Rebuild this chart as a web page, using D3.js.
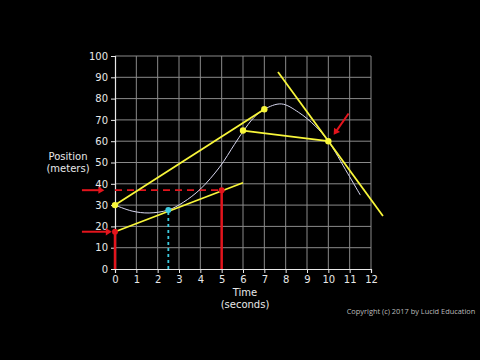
<!DOCTYPE html>
<html><head><meta charset="utf-8">
<script src="https://cdn.jsdelivr.net/npm/d3@7"></script>
<style>html,body{margin:0;padding:0;background:#000;}svg{display:block;}</style>
</head><body>
<svg id="c" width="480" height="360"></svg>
<script>
// Data
const xTicks = [0,1,2,3,4,5,6,7,8,9,10,11,12];
const yTicks = [0,10,20,30,40,50,60,70,80,90,100];
const curveT = [0, 0.8, 1.6, 2.5, 3.2, 4, 4.9, 5.6, 6, 6.5, 7, 7.8, 8.6, 9.4, 10, 10.9, 11.5];
const curveX = [30, 27.2, 26.3, 27.7, 31.3, 37.5, 47.8, 58.5, 64.5, 71, 75, 77.5, 73.6, 67, 60, 45, 34.7];
const secant1 = [[0,30],[7,75]];
const secant2 = [[6,65],[10,60]];
const tangent25 = [[0,17.5],[6,40.5]];
const tangent10 = [[7.64,92.5],[12.56,24.9]];
const yellowDots = [[0,30],[7,75],[6,65],[10,60]];
const redDots = [[0,17.5],[5,37]];
const cyanDot = [2.5,27.7];
const redVerticals = [[0,17.5],[5,37]];
const dashedY = 37;
const arrowsLeft = [[-1.55,37,-0.5],[-1.55,17.5,-0.15]];
const arrowDiag = [[10.95,73],[10.25,63]];

const svg = d3.select("#c");
const x = d3.scaleLinear().domain([0,12]).range([115,371]);
const y = d3.scaleLinear().domain([0,100]).range([269,56]);

const yellow = "#f8f63a", red = "#e3141c", cyan = "#3ccbe0";

// grid
svg.append("g").selectAll("line.v").data(xTicks.slice(1)).join("line")
  .attr("x1",d=>x(d)).attr("x2",d=>x(d)).attr("y1",y(0)).attr("y2",y(100))
  .attr("stroke","#8a8a8a").attr("stroke-width",1);
svg.append("g").selectAll("line.h").data(yTicks.slice(1)).join("line")
  .attr("x1",x(0)).attr("x2",x(12)).attr("y1",d=>y(d)).attr("y2",d=>y(d))
  .attr("stroke","#8a8a8a").attr("stroke-width",1);

// axes
const xa = svg.append("g").attr("transform",`translate(0,${y(0)})`)
  .call(d3.axisBottom(x).tickValues(xTicks).tickSize(4).tickPadding(3).tickFormat(d3.format("d")));
const ya = svg.append("g").attr("transform",`translate(${x(0)},0)`)
  .call(d3.axisLeft(y).tickValues(yTicks).tickSize(4).tickPadding(3).tickFormat(d3.format("d")));
[xa,ya].forEach(a=>{
  a.select(".domain").attr("stroke","#e8e8e8").attr("stroke-width",1.2);
  a.selectAll(".tick line").attr("stroke","#e8e8e8");
  a.selectAll(".tick text").attr("fill","#e8e8e8").attr("font-family","DejaVu Sans").attr("font-size",10);
});

const line = d3.line().x(d=>x(d[0])).y(d=>y(d[1]));

// red verticals
svg.append("g").selectAll("line").data(redVerticals).join("line")
  .attr("x1",d=>x(d[0])).attr("x2",d=>x(d[0])).attr("y1",y(0)).attr("y2",d=>y(d[1]))
  .attr("stroke",red).attr("stroke-width",2.5);
// dashed red horizontal
svg.append("line").attr("x1",x(0)).attr("x2",x(5)).attr("y1",y(dashedY)).attr("y2",y(dashedY))
  .attr("stroke",red).attr("stroke-width",1.8).attr("stroke-dasharray","7,5");

// cyan dotted vertical
svg.append("line").attr("x1",x(cyanDot[0])).attr("x2",x(cyanDot[0])).attr("y1",y(0)).attr("y2",y(cyanDot[1]))
  .attr("stroke",cyan).attr("stroke-width",1.8).attr("stroke-dasharray","3,3");

// curve
svg.append("path").datum(curveT.map((t,i)=>[t,curveX[i]]))
  .attr("d",d3.line().x(d=>x(d[0])).y(d=>y(d[1])).curve(d3.curveCatmullRom.alpha(0.5)))
  .attr("fill","none").attr("stroke","#d8d8f0").attr("stroke-width",1);

// yellow lines
[secant1,secant2,tangent25,tangent10].forEach(s=>{
  svg.append("path").datum(s).attr("d",line).attr("stroke",yellow).attr("stroke-width",1.8).attr("fill","none");
});

// dots
svg.append("g").selectAll("circle").data(yellowDots).join("circle")
  .attr("cx",d=>x(d[0])).attr("cy",d=>y(d[1])).attr("r",3.2).attr("fill",yellow);
svg.append("g").selectAll("circle").data(redDots).join("circle")
  .attr("cx",d=>x(d[0])).attr("cy",d=>y(d[1])).attr("r",3).attr("fill",red);
svg.append("circle").attr("cx",x(cyanDot[0])).attr("cy",y(cyanDot[1])).attr("r",3).attr("fill",cyan);

// arrows
function arrow(x1,y1,x2,y2){
  const ang = Math.atan2(y2-y1,x2-x1), L=7, W=0.55;
  svg.append("line").attr("x1",x1).attr("y1",y1).attr("x2",x2-Math.cos(ang)*3).attr("y2",y2-Math.sin(ang)*3)
    .attr("stroke",red).attr("stroke-width",2);
  const p = [[x2,y2],[x2-L*Math.cos(ang-W),y2-L*Math.sin(ang-W)],[x2-L*Math.cos(ang+W),y2-L*Math.sin(ang+W)]];
  svg.append("path").attr("d","M"+p.map(q=>q.join(",")).join("L")+"Z").attr("fill",red);
}
arrowsLeft.forEach(a=>arrow(x(a[0]),y(a[1]),x(a[2]),y(a[1])));
arrow(x(arrowDiag[0][0]),y(arrowDiag[0][1]),x(arrowDiag[1][0]),y(arrowDiag[1][1]));

// titles
const tf = {fill:"#e8e8e8","font-family":"DejaVu Sans","font-size":10,"text-anchor":"middle"};
function txt(s,tx,ty,o){const t=svg.append("text").attr("x",tx).attr("y",ty).text(s);Object.entries(o).forEach(([k,v])=>t.attr(k,v));}
txt("Position",68,160,tf);
txt("(meters)",68,172,tf);
txt("Time",245,296,tf);
txt("(seconds)",245,308,tf);
txt("Copyright (c) 2017 by Lucid Education",411,314,{fill:"#bbbbbb","font-family":"Open Sans","font-size":7.4,"text-anchor":"middle"});
</script>
</body></html>
